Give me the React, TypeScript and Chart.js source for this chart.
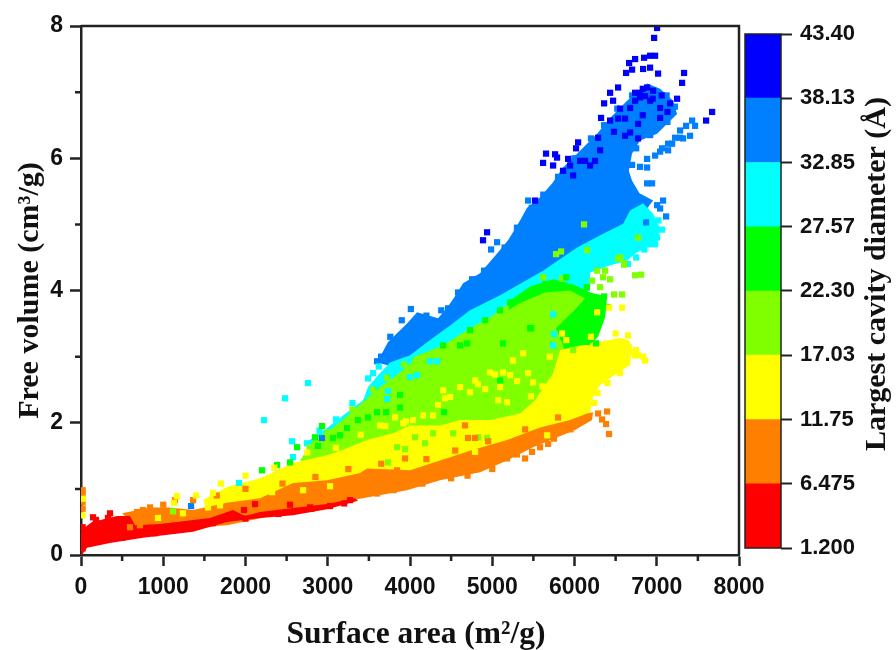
import React, { useEffect, useRef } from "react";
import { Chart, registerables } from "chart.js";

Chart.register(...registerables);

type Pair = [number, number];

const xMajorMax = 8000;
const yMajorMax = 8;
const xMinorTicks = [500, 1500, 2500, 3500, 4500, 5500, 6500, 7500];
const yMinorTicks = [1, 3, 5, 7];

const colorTicks = [1.2, 6.475, 11.75, 17.03, 22.3, 27.57, 32.85, 38.13, 43.4];
const colorTickLabels = ["1.200", "6.475", "11.75", "17.03", "22.30", "27.57", "32.85", "38.13", "43.40"];
const bandColors = ["#ff0000", "#ff8000", "#ffff00", "#80ff00", "#00ff00", "#00ffff", "#0080ff", "#0000ff"];

const xTitle = "Surface area (m²/g)";
const yTitle = "Free volume (cm³/g)";
const colorTitle = "Largest cavity diameter (Å)";

const redRegion: Pair[] = [[12,0],[5,.45],[36,.41],[134,.5],[438,.59],[596,.59],[657,.45],[961,.47],[1362,.53],[1569,.56],[1848,.68],[1994,.59],[2177,.65],[2578,.71],[2991,.77],[3332,.86],[3368,.82],[2991,.69],[2578,.6],[2177,.56],[1775,.5],[1362,.35],[754,.26],[353,.18],[73,.11]];
const orangeRegion: Pair[] = [[500,.63],[839,.72],[1082,.72],[1362,.68],[1775,.79],[2177,.86],[2578,1.09],[2991,1.13],[3393,1.24],[3478,1.31],[4001,1.28],[4365,1.43],[4767,1.59],[5180,1.74],[5581,1.93],[5946,2.04],[6153,2.14],[6226,2.16],[6214,2.04],[6007,1.89],[5496,1.63],[5180,1.43],[4852,1.25],[4365,1.13],[3964,.98],[3308,.83],[2663,.68],[1775,.45],[717,.36]];
const yellowRegion: Pair[] = [[1484,.83],[1775,1.03],[2177,1.16],[2578,1.39],[2991,1.51],[3186,1.59],[3478,1.74],[3794,1.84],[4001,1.96],[4365,1.96],[4609,2.04],[4973,2.04],[5338,2.14],[5521,2.34],[5740,2.75],[5825,3.1],[6189,3.2],[6554,3.28],[6652,3.25],[6700,3.17],[6676,2.87],[6518,2.75],[6311,2.57],[6226,2.39],[6189,2.14],[5825,1.89],[4852,1.43],[3879,1.13],[2663,.83],[1569,.6]];
const limeRegion: Pair[] = [[2663,1.43],[2845,1.77],[3028,1.89],[3210,2.07],[3453,2.34],[3636,2.54],[3818,2.7],[4025,2.91],[4037,2.99],[4402,3.17],[4730,3.43],[4973,3.59],[5302,3.9],[5460,4.05],[5740,4.15],[6007,4.05],[6153,3.9],[5971,3.67],[5850,3.43],[5950,3.05],[5700,2.3],[5338,2],[4244,1.74],[3149,1.28]];
const greenRegion: Pair[] = [[5217,3.85],[5460,4.06],[5740,4.17],[6007,4.08],[6189,3.97],[6396,3.91],[6372,3.59],[6287,3.3],[6129,3.1],[5900,3.05],[5776,3.43],[5971,3.67],[6129,3.88],[5946,4],[5642,3.97],[5338,3.81],[5192,3.7]];
const cyanRegion: Pair[] = [[2724,1.69],[2991,1.92],[3186,2.11],[3429,2.34],[3490,2.54],[3612,2.72],[3757,2.91],[4001,3.02],[4244,3.25],[4487,3.47],[4730,3.7],[5095,3.93],[5618,4.3],[6031,4.65],[6348,4.86],[6591,5.01],[6676,5.21],[6834,5.32],[6956,5.16],[7041,4.94],[7004,4.76],[6919,4.68],[6737,4.56],[6639,4.45],[6433,4.38],[6189,4.27],[6189,4],[5825,3.85],[5095,3.25],[4122,2.34],[3149,1.59]];
const blueRegion: Pair[] = [[3599,2.91],[3733,3.22],[3964,3.5],[4086,3.67],[4341,3.58],[4451,3.74],[4572,3.96],[4645,4.11],[4852,4.26],[5059,4.56],[5192,4.76],[5241,4.86],[5338,5.06],[5423,5.25],[5581,5.41],[5727,5.62],[5861,5.86],[6104,6.16],[6275,6.37],[6433,6.61],[6639,6.87],[6883,7.13],[7041,7.05],[7199,6.87],[7247,6.67],[7004,6.37],[6797,6.27],[6700,6.07],[6660,5.81],[6700,5.66],[6790,5.47],[6956,5.36],[6834,5.16],[6311,4.76],[5375,3.85],[4365,3.1],[3879,2.82]];

const redPoints: Pair[] = [[146,.57],[353,.63],[182,.53],[328,.56],[2116,.77],[1982,.68],[2541,.76],[3271,.83],[3028,.74],[2785,.72],[20,.42],[20,.3],[20,.2],[20,.1],[500,.26],[900,.33],[1250,.4],[1600,.48],[2000,.55],[2400,.62],[2800,.7],[3200,.78]];
const orangePoints: Pair[] = [[5399,1.46],[5484,1.56],[5581,1.63],[5679,1.68],[5180,1.46],[6287,2.14],[6396,2.17],[6335,2.05],[6384,1.98],[6420,1.83],[4669,1.96],[4706,1.77],[4791,1.77],[3940,1.46],[3733,1.24],[3843,1.28],[596,.42],[717,.45],[839,.72],[681,.65],[754,.68],[1143,.83],[1362,.83],[20,.98],[20,.92],[20,.8],[20,.7],[3600,.93],[3800,.98],[4150,1.08],[4500,1.16],[4700,1.2],[5000,1.3],[5300,1.52],[5750,1.76],[5950,1.9],[6100,2.03],[1000,.76],[1650,.9],[2000,1],[2450,1.08],[2850,1.18],[3250,1.3],[3650,1.38],[4200,1.45],[4550,1.58],[4950,1.72],[5400,1.9],[5800,2.08]];
const yellowPoints: Pair[] = [[4402,2.49],[4487,2.39],[4609,2.54],[4730,2.46],[4913,2.51],[4791,2.64],[4973,2.76],[5132,2.76],[5436,2.75],[5302,2.63],[5095,2.54],[5496,2.61],[5253,2.94],[5375,3.05],[5849,3.35],[5071,2.34],[5180,2.31],[4341,2.27],[4159,2.11],[4280,2.11],[4037,2.04],[3916,1.99],[3818,2.08],[3636,1.96],[4426,2.37],[4827,2.58],[5217,2.72],[5034,2.73],[6420,3.74],[6579,3.74],[6275,3.67],[6773,3.02],[6834,3],[6737,3.02],[6858,2.94],[6676,3.07],[1240,.63],[936,.56],[1167,.89],[1544,.72],[1690,.75],[2323,.95],[2700,.98],[3028,1.04],[1605,.94],[1812,.86],[4791,1.56],[5667,1.81],[1131,.79],[20,.85],[20,.6],[1400,.9],[1700,1.08],[2000,1.2],[2350,1.32],[2750,1.55],[3100,1.62],[3400,1.82],[3700,1.95],[3950,2.02],[5700,3],[5900,3.25],[6200,3.3],[6500,3.35],[6650,3.32],[6750,3.1],[6550,2.75],[6400,2.6],[6280,2.45],[6240,2.3],[5610,2.55],[5470,2.4]];
const limePoints: Pair[] = [[1119,.66],[6116,5],[5776,4.55],[5837,4.59],[6153,4.61],[6773,4.8],[6554,4.5],[6603,4.41],[6372,4.3],[6275,4.3],[6214,4.15],[6348,4.2],[6433,4.17],[6311,4.05],[6481,3.94],[6579,3.94],[6737,4.23],[6810,4.24],[6603,4.39],[6530,4.48],[5618,4.2],[5849,4.18],[3733,1.4],[3940,1.6],[4061,1.78],[4183,1.69],[3843,1.63],[4280,1.84],[4524,1.84],[4827,1.78],[4937,1.77],[5983,3.1],[2780,1.62],[3000,1.85],[3300,2.2],[3550,2.5],[3720,2.68],[3930,2.88]];
const greenPoints: Pair[] = [[2930,1.95],[2845,1.78],[2882,1.65],[3064,1.77],[3149,1.81],[3235,1.92],[3368,2.04],[3490,2.08],[3599,2.16],[3709,2.16],[3879,2.42],[3879,2.23],[4414,2.16],[5095,2.64],[5132,3.2],[5460,3.43],[4609,3.17],[4694,3.2],[4402,3.17],[4730,3.4],[4913,3.55],[5095,3.7],[5217,3.82],[2201,1.28],[2383,1.36],[2541,1.4],[2627,1.63],[6153,3.22],[6262,3.2],[6201,3.32],[6348,3.81],[6360,3.91],[5472,3.43],[6050,3.4],[5860,3.3],[6280,3.55],[6400,3.75],[5650,4.1],[5900,4.2],[6150,4.05]];
const cyanPoints: Pair[] = [[7065,4.92],[7004,4.8],[6919,4.7],[6980,4.7],[2760,2.6],[2225,2.04],[2481,2.37],[1921,1.09],[2566,1.72],[2748,1.69],[2578,1.48],[4244,2.93],[4329,2.93],[4001,2.69],[4086,2.72],[3733,2.48],[3721,2.36],[5740,3.64],[5752,3.34],[5740,3.17],[3490,2.67],[3300,2.3],[3100,2.05],[2900,1.88],[3620,2.85],[3550,2.75],[6750,4.5],[6850,4.62],[7020,5.06],[6650,4.4]];
const bluePoints: Pair[] = [[6883,5.99],[6980,6.04],[7065,6.15],[7138,6.22],[7223,6.31],[7284,6.42],[7357,6.49],[7430,6.57],[7466,6.49],[7405,6.34],[7320,6.3],[7187,6.22],[7041,6.1],[7138,6.12],[7284,6.31],[4986,4.62],[5059,4.73],[3648,3],[4463,3.73],[4584,3.97],[4755,4.17],[5436,5.36],[5667,5.44],[6700,5.9],[6797,5.87],[6883,5.86],[6883,5.62],[6943,5.62],[7077,5.36],[7041,5.24],[7114,5.12],[6870,5.03],[3599,2.93],[7004,5.29],[2930,1.77],[1338,.74],[3760,3.3],[3900,3.55],[4010,3.72],[4200,3.62],[4380,3.7],[4900,4.3],[5150,4.65],[5300,4.95],[5480,5.25],[5620,5.45],[5800,5.72],[6000,6],[6200,6.3],[6360,6.5],[6520,6.75],[6700,6.95],[7120,6.95],[7220,6.78],[7130,6.55],[6920,6.35],[6750,6.15],[6640,5.9]];
const darkBluePoints: Pair[] = [[7004,7.97],[6968,7.82],[6664,7.44],[6737,7.5],[6846,7.52],[6919,7.55],[6980,7.55],[6834,7.35],[6919,7.37],[6627,7.29],[6700,7.34],[7016,7.28],[7332,7.29],[7308,7.14],[6530,7.07],[6433,6.99],[6469,6.87],[6360,6.83],[6323,6.61],[7673,6.7],[7600,6.57],[5654,6.07],[5618,5.93],[5764,6.06],[5788,6.01],[5740,5.89],[6044,6.24],[6019,6.15],[5922,5.99],[5861,5.81],[5983,5.74],[6068,5.96],[6250,5.96],[6287,6.31],[6433,6.57],[6530,6.6],[6615,6.34],[6676,6.39],[6773,6.52],[6773,6.3],[6554,6.75],[6676,6.76],[6797,6.99],[6883,7.07],[6956,7.02],[6797,6.92],[7041,6.76],[7162,6.83],[7247,6.9],[7041,6.61],[5521,5.36],[4937,4.88],[4888,4.76],[6737,6.87],[6858,6.94],[6737,6.99],[6919,6.87],[6129,5.96],[5946,5.89],[6615,6.6],[6190,5.89],[6311,6.12],[6830,7.05],[6950,6.9],[7060,6.95],[7130,6.7],[6830,6.65],[6480,6.4]];

const AXIS_COLOR = "#222222";
const SANS = "'Liberation Sans', Arial, sans-serif";
const SERIF = "'Liberation Serif', 'Times New Roman', serif";

const toXY = (list: Pair[]) => list.map(([x, y]) => ({ x, y }));

// The filler clips a shape to the x range between its first and last vertex, so the
// outline is walked from its leftmost vertex and finished on its rightmost one.
const outline = (list: Pair[]): Pair[] => {
  const leftIndex = list.reduce((best, p, i) => (p[0] < list[best][0] ? i : best), 0);
  const rightmost = list.reduce((best, p) => (p[0] > best[0] ? p : best), list[0]);
  const walked = [...list.slice(leftIndex), ...list.slice(0, leftIndex), list[leftIndex]];
  return [...walked, rightmost];
};

const region = (list: Pair[], color: string) => ({
  type: "line" as const,
  data: toXY(outline(list)),
  showLine: true,
  fill: "shape",
  backgroundColor: color,
  borderColor: color,
  borderWidth: 0,
  pointRadius: 0,
  tension: 0,
});

const marks = (list: Pair[], color: string) => ({
  type: "scatter" as const,
  data: toXY(list),
  showLine: false,
  backgroundColor: color,
  borderColor: color,
  borderWidth: 0,
  pointStyle: "rect",
  pointRadius: 4.4,
  pointBorderWidth: 0,
});

const mainFrame = {
  id: "mainFrame",
  afterDraw(chart: any) {
    const { ctx, chartArea: a, scales } = chart;
    ctx.save();
    ctx.strokeStyle = AXIS_COLOR;
    ctx.lineWidth = 2.5;
    ctx.beginPath();
    ctx.moveTo(a.left, a.top);
    ctx.lineTo(a.right, a.top);
    ctx.lineTo(a.right, a.bottom);
    for (const v of xMinorTicks) {
      const px = scales.x.getPixelForValue(v);
      ctx.moveTo(px, a.bottom);
      ctx.lineTo(px, a.bottom + 6);
    }
    for (const v of yMinorTicks) {
      const py = scales.y.getPixelForValue(v);
      ctx.moveTo(a.left, py);
      ctx.lineTo(a.left - 6, py);
    }
    ctx.stroke();
    ctx.fillStyle = "#111111";
    ctx.font = `bold 31.5px ${SERIF}`;
    ctx.textAlign = "center";
    ctx.textBaseline = "alphabetic";
    ctx.fillText(xTitle, 416, 643);
    ctx.restore();
  },
};

const barFrame = {
  id: "barFrame",
  afterDraw(chart: any) {
    const { ctx, chartArea: a } = chart;
    ctx.save();
    ctx.strokeStyle = AXIS_COLOR;
    ctx.lineWidth = 1.5;
    ctx.strokeRect(a.left, a.top, a.right - a.left, a.bottom - a.top);
    ctx.translate(877, 274);
    ctx.rotate(-Math.PI / 2);
    ctx.fillStyle = "#111111";
    ctx.font = `bold 30px ${SERIF}`;
    ctx.textAlign = "center";
    ctx.textBaseline = "middle";
    ctx.fillText(colorTitle, 0, 0);
    ctx.restore();
  },
};

export default function App() {
  const mainRef = useRef<HTMLCanvasElement>(null);
  const barRef = useRef<HTMLCanvasElement>(null);

  useEffect(() => {
    const paintOrder = [
      region(blueRegion, bandColors[6]),
      region(cyanRegion, bandColors[5]),
      region(limeRegion, bandColors[3]),
      region(greenRegion, bandColors[4]),
      region(yellowRegion, bandColors[2]),
      region(orangeRegion, bandColors[1]),
      region(redRegion, bandColors[0]),
      marks(bluePoints, bandColors[6]),
      marks(darkBluePoints, bandColors[7]),
      marks(cyanPoints, bandColors[5]),
      marks(limePoints, bandColors[3]),
      marks(greenPoints, bandColors[4]),
      marks(orangePoints, bandColors[1]),
      marks(yellowPoints, bandColors[2]),
      marks(redPoints, bandColors[0]),
    ];

    const tickFont = { family: SANS, size: 23, weight: "bold" as const };
    const titleFont = { family: SERIF, size: 30, weight: "bold" as const };

    const main = new Chart(mainRef.current!, {
      type: "scatter",
      data: { datasets: paintOrder.slice().reverse() as any },
      plugins: [mainFrame],
      options: {
        responsive: false,
        animation: false,
        layout: { padding: { top: 26, right: 157, left: 0, bottom: 0 } },
        plugins: { legend: { display: false }, tooltip: { enabled: false } },
        scales: {
          x: {
            type: "linear",
            min: 0,
            max: xMajorMax,
            afterFit: (s: any) => { s.height = 95; },
            border: { display: true, color: AXIS_COLOR, width: 2.5 },
            grid: { drawOnChartArea: false, drawTicks: true, tickLength: 11, tickWidth: 2.5, tickColor: AXIS_COLOR },
            ticks: { stepSize: 1000, color: "#111111", font: tickFont, padding: 8, maxRotation: 0, callback: (v: any) => String(v) },
          },
          y: {
            type: "linear",
            min: 0,
            max: yMajorMax,
            afterFit: (s: any) => { s.width = 81; },
            border: { display: true, color: AXIS_COLOR, width: 2.5 },
            grid: { drawOnChartArea: false, drawTicks: true, tickLength: 11, tickWidth: 2.5, tickColor: AXIS_COLOR },
            ticks: { stepSize: 2, color: "#111111", font: tickFont, padding: 7, callback: (v: any) => String(v) },
            title: { display: true, text: yTitle, color: "#111111", font: titleFont, padding: { top: 12 } },
          },
        },
      } as any,
    });

    const bar = new Chart(barRef.current!, {
      type: "bar",
      data: {
        labels: ["diameter"],
        datasets: bandColors.map((c, i) => ({
          data: [[colorTicks[i], colorTicks[i + 1]]],
          backgroundColor: c,
          borderWidth: 0,
          barPercentage: 1,
          categoryPercentage: 1,
          grouped: false,
        })) as any,
      },
      plugins: [barFrame],
      options: {
        responsive: false,
        animation: false,
        layout: { padding: { top: 34, left: 745, bottom: 102, right: 0 } },
        plugins: { legend: { display: false }, tooltip: { enabled: false } },
        scales: {
          x: { display: false },
          y: {
            type: "linear",
            position: "right",
            min: colorTicks[0],
            max: colorTicks[colorTicks.length - 1],
            afterFit: (s: any) => { s.width = 115; },
            afterBuildTicks: (s: any) => { s.ticks = colorTicks.map((value) => ({ value })); },
            border: { display: false },
            grid: { drawOnChartArea: false, drawTicks: true, tickLength: 11, tickWidth: 2, tickColor: AXIS_COLOR },
            ticks: {
              color: "#111111",
              font: { family: SANS, size: 22, weight: "bold" },
              padding: 8,
              callback: (_v: any, i: number) => colorTickLabels[i],
            },
          },
        },
      } as any,
    });

    return () => {
      main.destroy();
      bar.destroy();
    };
  }, []);

  return (
    <div style={{ position: "fixed", left: 0, top: 0, width: 896, height: 650, background: "#ffffff" }}>
      <canvas ref={mainRef} width={896} height={650} style={{ position: "absolute", left: 0, top: 0 }} />
      <canvas ref={barRef} width={896} height={650} style={{ position: "absolute", left: 0, top: 0 }} />
    </div>
  );
}
